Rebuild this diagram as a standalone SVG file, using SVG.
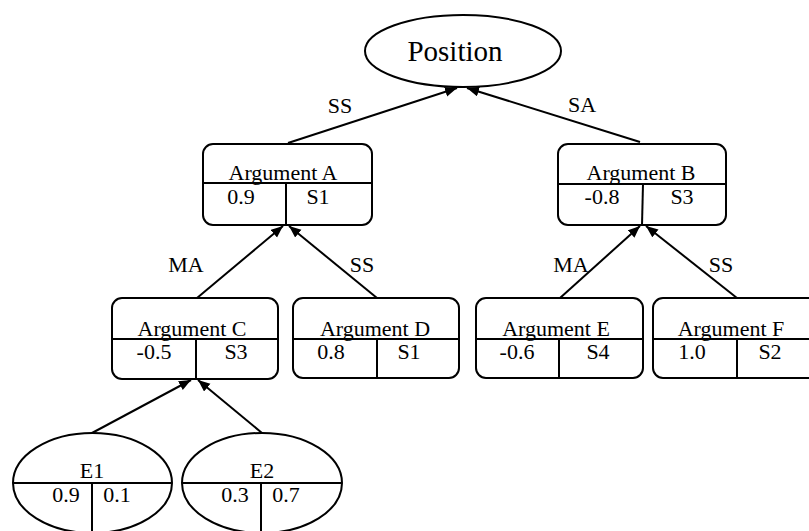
<svg xmlns="http://www.w3.org/2000/svg" width="809" height="531" viewBox="0 0 809 531">
<style>
.s{fill:#fff;stroke:#000;stroke-width:2}
.l{stroke:#000;stroke-width:2;fill:none}
text{font-family:'Liberation Serif','DejaVu Serif','Noto Serif',serif;font-size:22px;fill:#000;text-anchor:middle}
.e{stroke:#000;stroke-width:2;fill:none;marker-end:url(#ah)}
</style>
<defs>
<marker id="ah" markerUnits="userSpaceOnUse" markerWidth="13" markerHeight="11" refX="12" refY="5" orient="auto">
<path d="M0,0 L12,5 L0,10 z" fill="#000"/>
</marker>
</defs>
<rect width="809" height="531" fill="#fff"/>
<g id="edges" font-family="Liberation Serif, serif">
<line class="e" x1="288" y1="143" x2="457" y2="88"/>
<line class="e" x1="640" y1="142" x2="467" y2="88"/>
<line class="e" x1="197" y1="298" x2="283" y2="226"/>
<line class="e" x1="377" y1="298" x2="289" y2="226"/>
<line class="e" x1="560" y1="298" x2="640" y2="226"/>
<line class="e" x1="737" y1="298" x2="646" y2="226"/>
<line class="e" x1="92" y1="433" x2="191" y2="380"/>
<line class="e" x1="262" y1="433" x2="198" y2="380"/>
<text x="340" y="113">SS</text>
<text x="582" y="112">SA</text>
<text x="186" y="272">MA</text>
<text x="362" y="272">SS</text>
<text x="571" y="272">MA</text>
<text x="721" y="272">SS</text>
</g>
<g id="position">
<ellipse class="s" cx="463" cy="51" rx="98" ry="36"/>
<text x="455" y="61" style="font-size:29px">Position</text>
</g>
<g id="argA">
<rect class="s" x="203" y="144" width="169" height="81" rx="10"/>
<line class="l" x1="203" y1="183" x2="372" y2="183"/>
<line class="l" x1="286" y1="183" x2="286" y2="225"/>
<text x="283" y="180">Argument A</text>
<text x="241" y="204">0.9</text>
<text x="318" y="204">S1</text>
</g>
<g id="argB">
<rect class="s" x="558" y="144" width="168" height="81" rx="10"/>
<line class="l" x1="558" y1="184" x2="726" y2="184"/>
<line class="l" x1="643" y1="184" x2="642" y2="225"/>
<text x="641" y="180">Argument B</text>
<text x="602" y="204">-0.8</text>
<text x="682" y="204">S3</text>
</g>
<g id="argC">
<rect class="s" x="112" y="298" width="166" height="81" rx="10"/>
<line class="l" x1="112" y1="339" x2="278" y2="339"/>
<line class="l" x1="196" y1="339" x2="196" y2="379"/>
<text x="192" y="336">Argument C</text>
<text x="154" y="359">-0.5</text>
<text x="236" y="359">S3</text>
</g>
<g id="argD">
<rect class="s" x="293" y="298" width="166" height="80" rx="10"/>
<line class="l" x1="293" y1="339" x2="459" y2="339"/>
<line class="l" x1="377" y1="339" x2="377" y2="378"/>
<text x="375" y="336">Argument D</text>
<text x="331" y="359">0.8</text>
<text x="409" y="359">S1</text>
</g>
<g id="argE">
<rect class="s" x="476" y="298" width="167" height="80" rx="10"/>
<line class="l" x1="476" y1="339" x2="643" y2="339"/>
<line class="l" x1="559" y1="339" x2="559" y2="378"/>
<text x="556" y="336">Argument E</text>
<text x="517" y="359">-0.6</text>
<text x="598" y="359">S4</text>
</g>
<g id="argF">
<rect class="s" x="653" y="298" width="168" height="80" rx="10"/>
<line class="l" x1="653" y1="339" x2="821" y2="339"/>
<line class="l" x1="737" y1="339" x2="737" y2="378"/>
<text x="731" y="336">Argument F</text>
<text x="692" y="359">1.0</text>
<text x="770" y="359">S2</text>
</g>
<g id="e1">
<ellipse class="s" cx="92.5" cy="483" rx="79.5" ry="50"/>
<line class="l" x1="13" y1="483" x2="172" y2="483"/>
<line class="l" x1="92" y1="483" x2="92" y2="533"/>
<text x="92" y="478">E1</text>
<text x="66" y="502">0.9</text>
<text x="117" y="502">0.1</text>
</g>
<g id="e2">
<ellipse class="s" cx="262" cy="483" rx="80" ry="50"/>
<line class="l" x1="182" y1="483" x2="342" y2="483"/>
<line class="l" x1="261" y1="483" x2="261" y2="533"/>
<text x="262" y="478">E2</text>
<text x="235" y="502">0.3</text>
<text x="286" y="502">0.7</text>
</g>
</svg>
